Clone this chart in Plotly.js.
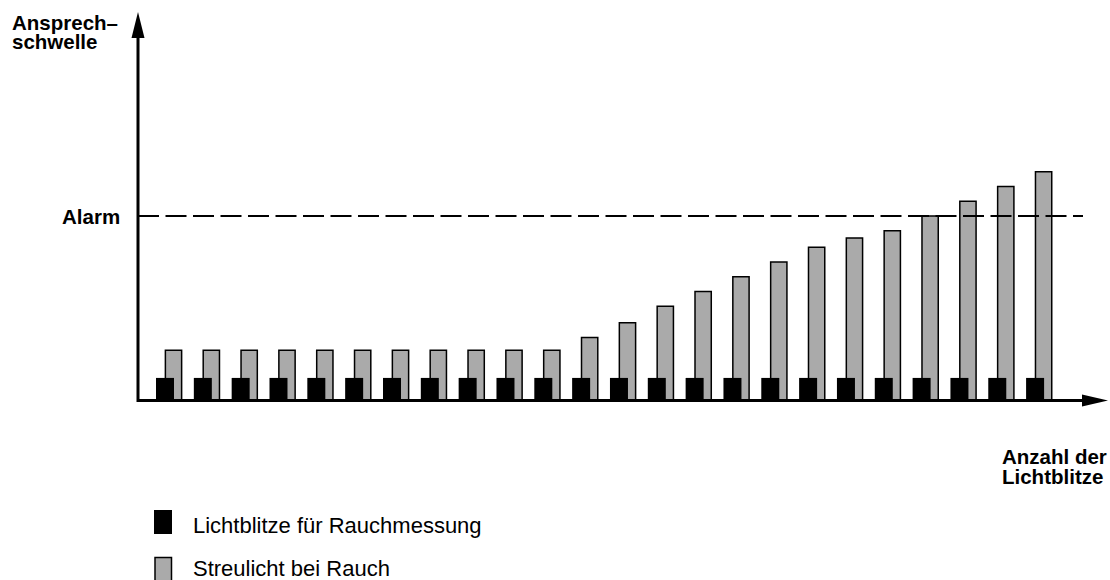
<!DOCTYPE html>
<html>
<head>
<meta charset="utf-8">
<script src="https://cdn.plot.ly/plotly-3.0.1.min.js"></script>
<style>html,body{margin:0;padding:0;background:#fff;}#chart{width:1110px;height:580px;}</style>
</head>
<body>
<div id="chart"></div>
<script>
// Data (relative units: Alarm threshold = 100)
const flashes = [1,2,3,4,5,6,7,8,9,10,11,12,13,14,15,16,17,18,19,20,21,22,23,24];
const flashValues = [12,12,12,12,12,12,12,12,12,12,12,12,12,12,12,12,12,12,12,12,12,12,12,12];
const scatterValues = [27,27,27,27,27,27,27,27,27,27,27,34,42,51,59,67,75,83,88,92,100,108,116,124];
const alarmLevel = 100;
const seriesNames = ["Lichtblitze für Rauchmessung", "Streulicht bei Rauch"];
const yLabel = ["Ansprech–", "schwelle"];
const xLabel = ["Anzahl der", "Lichtblitze"];
const alarmLabel = "Alarm";

// Layout helpers (pixel -> paper)
const L = 138, T = 10, W = 972, H = 390;
const px = x => (x - L) / W;
const py = y => (T + H - y) / H;

const FONT = "Liberation Sans, Arial, Helvetica, sans-serif";

const grey = {
  type: "bar", x: flashes, y: scatterValues, name: seriesNames[1],
  width: 0.43, offset: 0.01,
  marker: {color: "#aaaaaa", line: {color: "#000", width: 1.5}},
  showlegend: false, hoverinfo: "skip"
};
const black = {
  type: "bar", x: flashes, y: flashValues, name: seriesNames[0],
  width: 0.476, offset: -0.238,
  marker: {color: "#000", line: {color: "#000", width: 0}},
  showlegend: false, hoverinfo: "skip"
};

const boldFont = {family: FONT, size: 20.5, color: "#000", weight: "bold"};
const regFont = {family: FONT, size: 22, color: "#000"};

function ann(text, x, y, xanchor, font) {
  return {text: text, xref: "paper", yref: "paper", x: px(x), y: py(y),
    xanchor: xanchor, yanchor: "middle", showarrow: false, font: font, borderpad: 0};
}

const layout = {
  width: 1110, height: 580,
  margin: {l: L, r: 1110 - L - W, t: T, b: 580 - T - H, pad: 0},
  paper_bgcolor: "#fff", plot_bgcolor: "#fff",
  barmode: "overlay",
  xaxis: {range: [0.2863, 25.98], showgrid: false, zeroline: false, showline: false,
          showticklabels: false, ticks: "", fixedrange: true},
  yaxis: {range: [0, 211.96], showgrid: false, zeroline: false, showline: false,
          showticklabels: false, ticks: "", fixedrange: true},
  shapes: [
    // alarm dashed line
    {type: "line", xref: "paper", yref: "y", x0: px(138), x1: px(1083), y0: alarmLevel, y1: alarmLevel,
     line: {color: "#000", width: 2, dash: "21px,6.5px"}},
    // x axis
    {type: "line", xref: "paper", yref: "paper", x0: px(137), x1: px(1084), y0: py(400.5), y1: py(400.5),
     line: {color: "#000", width: 3}},
    {type: "path", xref: "paper", yref: "paper",
     path: `M${px(1108)},${py(400.5)} L${px(1082)},${py(394.5)} L${px(1082)},${py(406.5)} Z`,
     fillcolor: "#000", line: {color: "#000", width: 0}},
    // y axis
    {type: "line", xref: "paper", yref: "paper", x0: px(138), x1: px(138), y0: py(402), y1: py(36),
     line: {color: "#000", width: 3}},
    {type: "path", xref: "paper", yref: "paper",
     path: `M${px(138)},${py(12)} L${px(131.5)},${py(38)} L${px(144.5)},${py(38)} Z`,
     fillcolor: "#000", line: {color: "#000", width: 0}},
    // legend swatches
    {type: "rect", xref: "paper", yref: "paper", x0: px(154), x1: px(172), y0: py(534), y1: py(510),
     fillcolor: "#000", line: {color: "#000", width: 0}},
    {type: "rect", xref: "paper", yref: "paper", x0: px(155), x1: px(171.5), y0: py(581), y1: py(557.5),
     fillcolor: "#aaaaaa", line: {color: "#000", width: 1.5}}
  ],
  annotations: [
    ann(yLabel[0], 11, 22.8, "left", boldFont),
    ann(yLabel[1], 11, 41.2, "left", boldFont),
    ann(xLabel[0], 1001, 457.0, "left", boldFont),
    ann(xLabel[1], 1001, 476.2, "left", boldFont),
    Object.assign(ann(alarmLabel, 121, 0, "right", boldFont), {yref: "y", y: alarmLevel}),
    ann(seriesNames[0], 192, 525.4, "left", regFont),
    ann(seriesNames[1], 192, 568.2, "left", regFont)
  ]
};

Plotly.newPlot("chart", [grey, black], layout, {displayModeBar: false, staticPlot: true});
</script>
</body>
</html>
